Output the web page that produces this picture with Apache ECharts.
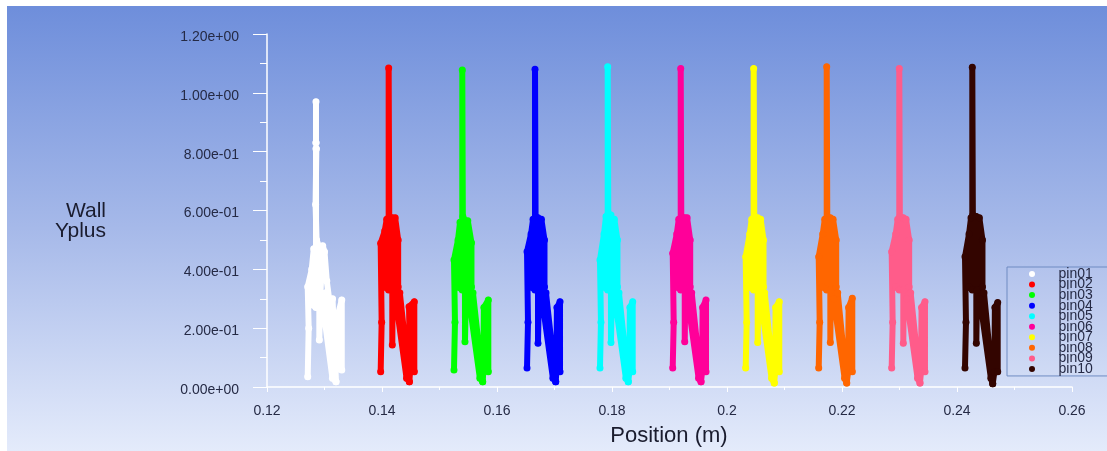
<!DOCTYPE html>
<html><head><meta charset="utf-8">
<style>html,body{margin:0;padding:0;background:#fff}#c{width:1107px;height:451px}</style>
<script src="https://cdn.jsdelivr.net/npm/echarts@6/dist/echarts.min.js"></script>
</head><body><div id="c"></div>
<script>
const names = ['pin01','pin02','pin03','pin04','pin05','pin06','pin07','pin08','pin09','pin10'];
const colors = ['#ffffff','#ff0000','#00ff00','#0000ff','#00ffff','#ff0099','#ffff00','#ff6600','#ff5c8a','#330500'];
const xTicks = ['0.12','0.14','0.16','0.18','0.2','0.22','0.24','0.26'];
const yTicks = ['0.00e+00','2.00e-01','4.00e-01','6.00e-01','8.00e-01','1.00e+00','1.20e+00'];

const pin01 = [[.12708,.035],[.12725,.2],[.12708,.341],[.12778,.40],[.12813,.47],[.12778,.28],[.12852,.27],[.12852,.81],[null,null],[.12852,.83],[.12852,.97],[.12852,.83],[null,null],[.12858,.81],[.12845,.62],[.12862,.5],[.1291,.475],[.1291,.16],[.12925,.3],[.12969,.48],[.1300,.46],[.1304,.36],[.1308,.30],[.1300,.3],[.12969,.28],[.13138,.03],[.132,.018],[.1302,.32],[.132,.018],[.1314,.3],[.1317,.05],[.1322,.06],[.1324,.25],[.1330,.296],[.1330,.058]];
const pin02 = [[.13977,.052],[.13994,.22],[.13977,.489],[.14047,.53],[.14082,.57],[.14047,.34],[.14116,.33],[.14116,1.084],[.14126,.58],[.14179,.575],[.14179,.143],[.14186,.33],[.14229,.575],[.14281,.5],[.14281,.34],[.14237,.3],[.14427,.03],[.14476,.018],[.1431,.32],[.14476,.018],[.14487,.05],[.14470,.273],[.14562,.29],[.14562,.052]];
const pin03 = [[.15252,.058],[.15269,.22],[.15252,.432],[.15322,.5],[.15357,.56],[.15322,.34],[.15396,.33],[.15396,1.078],[.15406,.58],[.15443,.565],[.15443,.154],[.15461,.33],[.15492,.565],[.15556,.49],[.15556,.34],[.15512,.3],[.15702,.03],[.15751,.018],[.15582,.32],[.15751,.018],[.15762,.05],[.15772,.27],[.15849,.296],[.15849,.052]];
const pin04 = [[.16522,.065],[.16539,.22],[.16522,.46],[.16592,.52],[.16627,.57],[.16592,.34],[.16661,.33],[.16661,1.08],[.16671,.58],[.16713,.575],[.16713,.149],[.16731,.33],[.16772,.57],[.16826,.5],[.16826,.34],[.16782,.3],[.16972,.03],[.17021,.018],[.16852,.32],[.17021,.018],[.17032,.05],[.17042,.27],[.17096,.29],[.17096,.052]];
const pin05 = [[.17791,.065],[.17808,.22],[.17791,.432],[.17861,.52],[.17896,.58],[.17861,.34],[.17925,.33],[.17925,1.089],[.17935,.59],[.17982,.585],[.17982,.151],[.18,.33],[.18041,.57],[.18095,.5],[.18095,.34],[.18051,.3],[.18241,.03],[.18283,.018],[.18121,.32],[.18283,.018],[.18301,.05],[.18311,.27],[.1836,.29],[.1836,.052]];
const pin06 = [[.19056,.065],[.19073,.22],[.19056,.455],[.19126,.52],[.19161,.57],[.19126,.34],[.19195,.33],[.19195,1.083],[.19205,.58],[.19265,.575],[.19265,.154],[.19275,.33],[.19306,.575],[.1936,.5],[.1936,.34],[.19316,.3],[.19506,.03],[.19548,.018],[.19386,.32],[.19548,.018],[.19566,.05],[.19576,.27],[.19635,.296],[.19635,.052]];
const pin07 = [[.20325,.065],[.20342,.22],[.20325,.443],[.20395,.52],[.2043,.57],[.20395,.34],[.20464,.33],[.20464,1.083],[.20474,.58],[.20534,.575],[.20534,.151],[.20546,.33],[.20585,.57],[.20635,.5],[.20635,.34],[.20585,.3],[.20775,.03],[.20822,.014],[.20655,.32],[.20822,.014],[.20835,.05],[.20845,.27],[.20909,.29],[.20909,.052]];
const pin08 = [[.21595,.065],[.21612,.22],[.21595,.443],[.21665,.52],[.217,.57],[.21665,.34],[.21734,.33],[.21734,1.089],[.21744,.58],[.21797,.575],[.21797,.151],[.21805,.33],[.21845,.57],[.21899,.5],[.21899,.34],[.21855,.3],[.22045,.03],[.22082,.014],[.21925,.32],[.22082,.014],[.22105,.05],[.22115,.27],[.22179,.302],[.22179,.052]];
const pin09 = [[.22864,.065],[.22881,.22],[.22864,.46],[.22934,.52],[.22969,.57],[.22934,.34],[.22996,.33],[.22996,1.083],[.23006,.58],[.23066,.575],[.23066,.149],[.23074,.33],[.23114,.57],[.23168,.5],[.23168,.34],[.23124,.3],[.23314,.03],[.23356,.014],[.23194,.32],[.23356,.014],[.23374,.05],[.23384,.27],[.23443,.29],[.23443,.052]];
const pin10 = [[.24139,.065],[.24156,.22],[.24139,.443],[.24209,.52],[.24244,.575],[.24209,.34],[.24266,.33],[.24266,1.087],[.24276,.585],[.24336,.58],[.24336,.149],[.24349,.33],[.24389,.575],[.24443,.5],[.24443,.34],[.24399,.3],[.24589,.03],[.24621,.011],[.24469,.32],[.24621,.011],[.24649,.05],[.24659,.27],[.24708,.287],[.24708,.052]];
const pins = [pin01,pin02,pin03,pin04,pin05,pin06,pin07,pin08,pin09,pin10];

const chart = echarts.init(document.getElementById('c'), null, {renderer:'canvas'});
const ink = '#252a45';
const font = '"Liberation Sans", Arial, sans-serif';
chart.setOption({
  animation:false,
  graphic:[
    {type:'rect',z:-100,silent:true,shape:{x:7,y:6,width:1100,height:445},
     style:{fill:new echarts.graphic.LinearGradient(0,0,0,1,[{offset:0,color:'#6e8edb'},{offset:.5,color:'#a6b9e9'},{offset:1,color:'#e4ebfb'}])}},
    {type:'text',z:5,x:106,y:211,style:{text:'Wall',fill:'#1a1c2e',font:'21px '+font,textAlign:'right',textVerticalAlign:'middle'}},
    {type:'text',z:5,x:106,y:231,style:{text:'Yplus',fill:'#1a1c2e',font:'21px '+font,textAlign:'right',textVerticalAlign:'middle'}},
    {type:'text',z:5,x:669,y:436,style:{text:'Position (m)',fill:'#1a1c2e',font:'22px '+font,textAlign:'center',textVerticalAlign:'middle'}}
  ],
  grid:{left:267,right:35,top:34,bottom:64,containLabel:false},
  xAxis:{type:'value',min:.12,max:.26,interval:.02,
    axisLine:{onZero:false,lineStyle:{color:'#fff',width:1.5}},
    axisTick:{length:5,lineStyle:{color:'#fff',width:1}},
    minorTick:{show:true,splitNumber:2,length:3,lineStyle:{color:'#fff'}},
    splitLine:{show:false},
    axisLabel:{margin:17,color:ink,fontSize:14,fontFamily:font,formatter:(v)=>xTicks[Math.round((v-.12)/.02)]}},
  yAxis:{type:'value',min:0,max:1.2,interval:.2,
    axisLine:{show:true,onZero:false,lineStyle:{color:'#fff',width:1.5}},
    axisTick:{show:true,length:14,lineStyle:{color:'#fff',width:1}},
    minorTick:{show:true,splitNumber:2,length:7,lineStyle:{color:'#fff'}},
    splitLine:{show:false},
    axisLabel:{margin:28,color:ink,fontSize:14,fontFamily:font,verticalAlign:'top',lineHeight:6,formatter:(v)=>yTicks[Math.round(v/.2)]}},
  legend:{left:1007,top:267,orient:'vertical',selectedMode:false,
    itemWidth:25,itemHeight:6,itemGap:-3.45,padding:[0,16,0,22],
    backgroundColor:'rgba(255,255,255,0.03)',borderColor:'#6f8bc2',borderWidth:1,borderRadius:0,
    textStyle:{color:ink,fontSize:14,fontFamily:font,padding:[1,0,0,9]},
    data:names.map(n=>({name:n,icon:'circle'}))},
  series:pins.map((d,i)=>({
    type:'line',name:names[i],data:d,color:colors[i],
    symbol:'circle',symbolSize:7,showSymbol:true,showAllSymbol:true,connectNulls:false,
    lineStyle:{color:colors[i],width:6,cap:'round',join:'round'},
    itemStyle:{color:colors[i]},
    silent:true,clip:false,z:3+i}))
});
</script></body></html>
